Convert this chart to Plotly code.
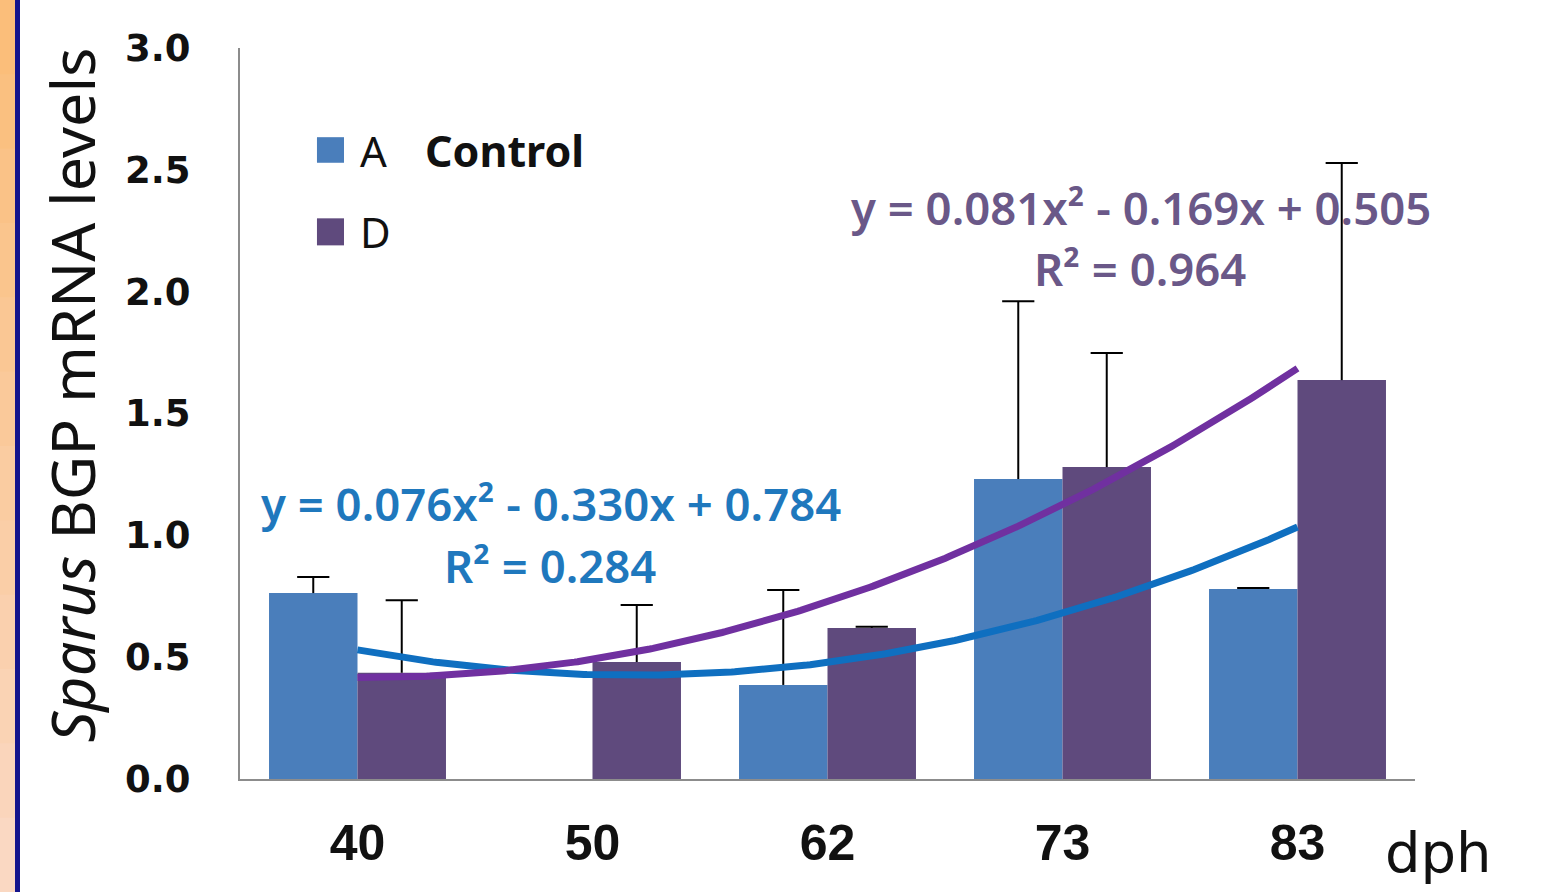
import numpy as np
import plotly.graph_objects as go

categories = ["40", "50", "62", "73", "83"]
a_values = [0.763, None, 0.386, 1.231, 0.780]
a_errors = [0.066, None, 0.390, 0.730, 0.004]
d_values = [0.436, 0.480, 0.620, 1.280, 1.637]
d_errors = [0.298, 0.234, 0.005, 0.468, 0.891]

# trendline coefficients (as printed on the chart), x = 1..5
a_coef = [0.076, -0.330, 0.784]
d_coef = [0.081, -0.169, 0.505]
a_r2 = 0.284
d_r2 = 0.964

ytick_vals = [0.0, 0.5, 1.0, 1.5, 2.0, 2.5, 3.0]

col_a = "#4A7EBB"
col_d = "#5F4A7D"
col_a_line = "#0F6FC0"
col_d_line = "#7030A0"
col_a_text = "#1F78BD"
col_d_text = "#6A5888"

BARGAP = 0.247
xpos = list(range(len(categories)))
off = (1 - BARGAP) / 4  # centre offset of each bar in a 2-bar group

fig = go.Figure()
for vals, errs, col, name in [(a_values, a_errors, col_a, "A"),
                              (d_values, d_errors, col_d, "D")]:
    fig.add_trace(go.Bar(
        x=xpos, y=vals, name=name, marker=dict(color=col, line=dict(width=0)),
        error_y=dict(type="data", symmetric=False, array=errs,
                     arrayminus=[0] * len(errs), color="black", thickness=2, width=0),
        showlegend=False,
    ))

t = np.linspace(1, len(categories), 300)
fig.add_trace(go.Scatter(x=t - 1, y=np.polyval(a_coef, t), mode="lines",
                         line=dict(color=col_a_line, width=7), showlegend=False))
fig.add_trace(go.Scatter(x=t - 1, y=np.polyval(d_coef, t), mode="lines",
                         line=dict(color=col_d_line, width=7), showlegend=False))

# error-bar caps (top only)
for vals, errs, sgn in [(a_values, a_errors, -1), (d_values, d_errors, 1)]:
    cx, cy = [], []
    for x, v, e in zip(xpos, vals, errs):
        if v is None or e is None:
            continue
        cx.append(x + sgn * off)
        cy.append(v + e)
    fig.add_trace(go.Scatter(x=cx, y=cy, mode="markers", showlegend=False,
                             marker=dict(symbol="line-ew", size=23, color="black",
                                         line=dict(color="black", width=2))))


def eq_text(c):
    s1 = "-" if c[1] < 0 else "+"
    s2 = "-" if c[2] < 0 else "+"
    return f"y = {c[0]:.3f}x² {s1} {abs(c[1]):.3f}x {s2} {abs(c[2]):.3f}"


eq_font = dict(family="Noto Sans", size=45.5, weight=600)
annots = [
    dict(x=3.334, y=2.347, xref="x", yref="y", text=eq_text(d_coef),
         font=dict(eq_font, color=col_d_text)),
    dict(x=3.330, y=2.097, xref="x", yref="y", text=f"R² = {d_r2:.3f}",
         font=dict(eq_font, color=col_d_text)),
    dict(x=0.823, y=1.1325, xref="x", yref="y", text=eq_text(a_coef),
         font=dict(eq_font, color=col_a_text)),
    dict(x=0.819, y=0.878, xref="x", yref="y", text=f"R² = {a_r2:.3f}",
         font=dict(eq_font, color=col_a_text)),
    # legend texts
    dict(x=0.1005, y=0.860, xref="paper", yref="paper", xanchor="left", text="A",
         font=dict(family="Noto Sans", size=42, color="#111")),
    dict(x=0.1005, y=0.749, xref="paper", yref="paper", xanchor="left", text="D",
         font=dict(family="Noto Sans", size=42, color="#111")),
    dict(x=0.1555, y=0.860, xref="paper", yref="paper", xanchor="left", text="Control",
         font=dict(family="Noto Sans", size=43, weight="bold", color="#111")),
    # axis titles
    dict(x=-0.143, y=0.526, xref="paper", yref="paper", textangle=-90,
         text="<i>Sparus</i> BGP mRNA levels",
         font=dict(family="Noto Sans", size=61, color="#111")),
    dict(x=1.0196, y=-0.101, xref="paper", yref="paper", text="dph",
         font=dict(family="DejaVu Sans", size=56, color="#111")),
]
for a in annots:
    a.setdefault("showarrow", False)
    a.setdefault("xanchor", "center")
    a.setdefault("yanchor", "middle")
fig.update_layout(annotations=annots)

shapes = [
    dict(type="rect", xref="paper", yref="paper", x0=0.0655, x1=0.0885, y0=0.843, y1=0.878,
         fillcolor=col_a, line=dict(width=0)),
    dict(type="rect", xref="paper", yref="paper", x0=0.0655, x1=0.0885, y0=0.730, y1=0.767,
         fillcolor=col_d, line=dict(width=0)),
]
# decorative left border strip (gradient orange + blue rule)
px_w = 1175.0
top_c = np.array([251, 190, 122])
bot_c = np.array([250, 216, 194])
n = 12
for i in range(n):
    f = i / (n - 1)
    c = (top_c * (1 - f) + bot_c * f).astype(int)
    y1 = 1 + 48 / 731 - i * (892 / 731) / n
    y0 = y1 - (892 / 731) / n
    shapes.append(dict(type="rect", xref="paper", yref="paper",
                       x0=-240 / px_w, x1=-225 / px_w, y0=y0 - 0.002, y1=y1,
                       fillcolor=f"rgb({c[0]},{c[1]},{c[2]})", line=dict(width=0), layer="below"))
shapes.append(dict(type="rect", xref="paper", yref="paper",
                   x0=-225 / px_w, x1=-220 / px_w, y0=-113 / 731 - 0.01, y1=1 + 48 / 731 + 0.01,
                   fillcolor="#14148C", line=dict(width=0), layer="below"))
fig.update_layout(shapes=shapes)

fig.update_layout(
    width=1547, height=892,
    margin=dict(l=240, r=132, t=48, b=113),
    paper_bgcolor="white", plot_bgcolor="white",
    barmode="group", bargap=BARGAP, bargroupgap=0,
    showlegend=False,
    xaxis=dict(range=[-0.5, 4.5], tickvals=xpos, ticktext=categories,
               showgrid=False, zeroline=False, showline=True, linecolor="#8c8c8c", linewidth=2,
               ticks="", ticklabelstandoff=19,
               tickfont=dict(family="Liberation Sans", size=50, weight="bold", color="#111")),
    yaxis=dict(range=[0, 3], tickvals=ytick_vals, ticktext=[f"{v:.1f}" for v in ytick_vals],
               showgrid=False, zeroline=False, showline=True, linecolor="#8c8c8c", linewidth=2,
               ticks="", ticklabelstandoff=40,
               tickfont=dict(family="DejaVu Sans", size=37, weight="bold", color="#111")),
)

fig.write_html("out.html", config={"displayModeBar": False},
               post_script="document.body.style.margin='0';")
